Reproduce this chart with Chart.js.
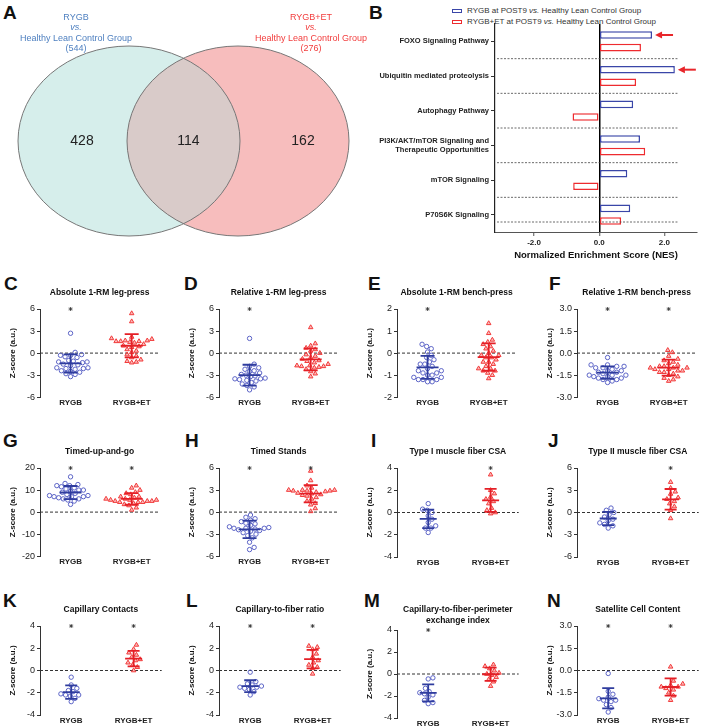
<!DOCTYPE html>
<html>
<head>
<meta charset="utf-8">
<script src="https://cdn.jsdelivr.net/npm/chart.js"></script>
<style>
  body { margin: 0; background: #fff; }
  #page { position: relative; width: 709px; height: 727px; overflow: hidden; font-family: "Liberation Sans", Arial, sans-serif; }
  .letter { position: absolute; font: bold 19px/19px "Liberation Sans", Arial, sans-serif; color: #111; }
  #legendB { position: absolute; left: 452px; top: 5px; font-size: 8px; color: #333; }
  #legendB div { height: 11px; line-height: 11px; white-space: nowrap; }
  #legendB .sw { display: inline-block; width: 8px; height: 2px; border: 1.5px solid; margin-right: 5px; vertical-align: middle; }
</style>
</head>
<body>
<div id="page">
  <div id="legendB"></div>
</div>
<script>
// ---- panel A: Venn counts
const setNames = ['RYGB', 'RYGB+ET'];
const comparison = 'Healthy Lean Control Group';
const setTotals = [544, 276];
const regionCounts = [428, 114, 162];

// ---- panel B: GSEA
const pathways = ['FOXO Signaling Pathway', 'Ubiquitin mediated proteolysis', 'Autophagy Pathway',
  ['PI3K/AKT/mTOR Signaling and', 'Therapeutic Opportunities'], 'mTOR Signaling', 'P70S6K Signaling'];
const nesLabels = ['RYGB at POST9 vs. Healthy  Lean Control Group', 'RYGB+ET at POST9 vs. Healthy  Lean Control Group'];
const nesRygb = [1.62, 2.32, 1.04, 1.25, 0.86, 0.95];
const nesEt = [1.28, 1.13, -0.82, 1.41, -0.80, 0.67];
const nesTicks = [-2, 0, 2];
const arrowRows = [0, 1];

// ---- panels C-N: z-scores
const groups = ['RYGB', 'RYGB+ET'];
const panelTitles = ['Absolute 1-RM leg-press', 'Relative 1-RM leg-press', 'Absolute 1-RM bench-press', 'Relative 1-RM bench-press',
  'Timed-up-and-go', 'Timed Stands', 'Type I muscle fiber CSA', 'Type II muscle fiber CSA',
  'Capillary Contacts', 'Capillary-to-fiber ratio', ['Capillary-to-fiber-perimeter', 'exchange index'], 'Satellite Cell Content'];
const axisMax = [6, 6, 2, 3, 20, 6, 4, 6, 4, 4, 4, 3];
const axisStep = [3, 3, 1, 1.5, 10, 3, 2, 3, 2, 2, 2, 1.5];
const tickDecimals = [0, 0, 0, 1, 0, 0, 0, 0, 0, 0, 0, 1];
const sigRygb = [1, 1, 1, 1, 1, 1, 0, 0, 1, 1, 1, 1];
const sigEt = [0, 0, 0, 1, 1, 1, 1, 1, 1, 1, 0, 1];

const legAbsRygb = [2.7, 0.1, -0.2, -0.3, -0.3, -0.5, -0.6, -1.0, -1.1, -1.2, -1.2, -1.3, -1.5, -1.6, -1.7, -2.0, -2.0, -2.1, -2.1, -2.2, -2.4, -2.5, -2.6, -2.8, -2.9, -3.2];
const legAbsEt = [5.4, 4.3, 2.2, 2.0, 1.9, 1.7, 1.7, 1.6, 1.6, 1.6, 1.5, 1.4, 1.2, 1.0, 0.9, 0.8, 0.5, 0.3, 0.1, -0.2, -0.4, -0.6, -0.9, -1.1, -1.2, -1.3];
const legRelRygb = [2.0, -1.5, -1.8, -2.0, -2.2, -2.4, -2.5, -2.7, -2.9, -3.0, -3.1, -3.2, -3.4, -3.5, -3.5, -3.6, -3.7, -3.8, -4.0, -4.2, -4.4, -4.6, -5.0];
const legRelEt = [3.5, 1.3, 1.0, 0.7, 0.5, 0.3, 0.0, -0.2, -0.4, -0.6, -0.8, -1.0, -1.1, -1.3, -1.5, -1.7, -1.7, -1.8, -1.8, -1.9, -2.0, -2.2, -2.5, -2.8, -3.2];
const benchAbsRygb = [0.4, 0.3, 0.2, 0.05, -0.1, -0.2, -0.3, -0.4, -0.5, -0.5, -0.6, -0.7, -0.8, -0.8, -0.9, -0.9, -1.0, -1.0, -1.1, -1.1, -1.2, -1.2, -1.2, -1.3, -1.3];
const benchAbsEt = [1.35, 0.9, 0.6, 0.5, 0.4, 0.3, 0.2, 0.1, 0.0, -0.1, -0.1, -0.2, -0.2, -0.3, -0.4, -0.4, -0.5, -0.6, -0.7, -0.7, -0.8, -0.8, -0.9, -1.0, -1.15];
const benchRelRygb = [-0.3, -0.8, -0.8, -0.9, -0.9, -1.0, -1.0, -1.1, -1.2, -1.2, -1.3, -1.3, -1.4, -1.5, -1.5, -1.5, -1.6, -1.6, -1.7, -1.7, -1.8, -1.8, -1.9, -2.0];
const benchRelEt = [0.2, 0.05, -0.2, -0.4, -0.5, -0.6, -0.7, -0.8, -0.9, -0.9, -1.0, -1.0, -1.0, -1.1, -1.1, -1.2, -1.2, -1.3, -1.3, -1.4, -1.5, -1.6, -1.7, -1.8, -1.9];
const tugRygb = [16, 13, 12.5, 12, 12, 11.5, 11, 10.5, 10, 10, 9.5, 9, 8.5, 8, 7.5, 7.5, 7, 7, 7, 6.5, 6, 6, 5.5, 5, 3.5];
const tugEt = [12, 11, 10, 9, 8.5, 8, 7, 7, 6.5, 6, 6, 5.5, 5.5, 5.5, 5, 5, 5, 4.5, 4.5, 4.5, 4, 3.5, 3, 2, 1];
const standsRygb = [-0.4, -0.7, -0.9, -1.1, -1.3, -1.5, -1.6, -1.8, -2.0, -2.1, -2.2, -2.2, -2.2, -2.3, -2.4, -2.5, -2.6, -2.8, -3.0, -3.2, -3.5, -4.1, -4.8, -5.1];
const standsEt = [5.6, 4.3, 3.6, 3.3, 3.0, 3.0, 3.0, 2.9, 2.9, 2.9, 2.8, 2.7, 2.6, 2.5, 2.4, 2.3, 2.2, 2.0, 1.8, 1.5, 1.2, 1.0, 0.5, 0.1];
const type1Rygb = [0.8, 0.3, 0.2, 0.0, -0.3, -0.6, -0.9, -1.2, -1.4, -1.4, -1.8];
const type1Et = [3.4, 2.0, 1.7, 1.4, 1.2, 1.0, 0.8, 0.4, 0.2, 0.0, -0.1];
const type2Rygb = [0.6, 0.3, 0.0, -0.3, -0.6, -0.9, -1.1, -1.4, -1.6, -1.8, -2.1];
const type2Et = [4.1, 3.3, 2.8, 2.5, 2.0, 1.8, 1.5, 1.2, 0.8, 0.3, -0.8];
const capContactsRygb = [-0.6, -1.3, -1.6, -1.8, -1.9, -2.1, -2.2, -2.2, -2.3, -2.5, -2.8];
const capContactsEt = [2.3, 1.9, 1.6, 1.4, 1.2, 1.0, 0.9, 0.7, 0.5, 0.3, 0.0];
const capRatioRygb = [-0.15, -1.0, -1.2, -1.3, -1.4, -1.5, -1.5, -1.6, -1.7, -1.9, -2.2];
const capRatioEt = [2.2, 2.1, 1.9, 1.5, 1.2, 0.9, 0.7, 0.5, 0.3, 0.2, -0.3];
const capPerimRygb = [-0.35, -0.45, -1.3, -1.6, -1.7, -1.8, -1.9, -2.1, -2.4, -2.6, -2.7];
const capPerimEt = [0.85, 0.7, 0.5, 0.3, 0.1, 0.0, -0.1, -0.3, -0.5, -0.7, -1.1];
const satCellRygb = [-0.2, -1.4, -1.6, -1.8, -1.9, -2.0, -2.0, -2.1, -2.3, -2.5, -2.8];
const satCellEt = [0.25, -0.7, -0.9, -1.0, -1.1, -1.1, -1.2, -1.3, -1.5, -1.7, -2.0];

const rygbScores = [legAbsRygb, legRelRygb, benchAbsRygb, benchRelRygb, tugRygb, standsRygb,
  type1Rygb, type2Rygb, capContactsRygb, capRatioRygb, capPerimRygb, satCellRygb];
const etScores = [legAbsEt, legRelEt, benchAbsEt, benchRelEt, tugEt, standsEt,
  type1Et, type2Et, capContactsEt, capRatioEt, capPerimEt, satCellEt];

const bluePoint = '#5b63c6', blueBar = '#2f3c9e';
const redPoint = '#f23b3b', redBar = '#e41f26';

Chart.defaults.font.family = '"Liberation Sans", Arial, sans-serif';
Chart.defaults.color = '#222';
Chart.defaults.animation = false;
Chart.defaults.responsive = false;
Chart.defaults.plugins.legend.display = false;
Chart.defaults.plugins.tooltip.enabled = false;

const page = document.getElementById('page');
function addCanvas(left, top, w, h) {
  const c = document.createElement('canvas');
  c.width = w; c.height = h;
  c.style.cssText = `position:absolute;left:${left}px;top:${top}px;width:${w}px;height:${h}px`;
  page.appendChild(c);
  return c;
}

// panel letters
const letterPos = { A: [3, 3], B: [369, 3], C: [4, 274], D: [184, 274], E: [368, 274], F: [549, 274],
  G: [3, 431], H: [185, 431], I: [371, 431], J: [548, 431], K: [3, 591], L: [186, 591], M: [364, 591], N: [547, 591] };
Object.keys(letterPos).forEach(k => {
  const d = document.createElement('div');
  d.className = 'letter';
  d.textContent = k;
  d.style.left = letterPos[k][0] + 'px';
  d.style.top = letterPos[k][1] + 'px';
  page.appendChild(d);
});

// ---------- A: Venn ----------
const vennShapes = [
  { cx: 129, cy: 141, rx: 111, ry: 95, fill: '#d6eeeb', text: '#4f80c0', labelX: 76, countX: 82 },
  { cx: 238, cy: 141, rx: 111, ry: 95, fill: '#f7bdbd', text: '#f23d3d', labelX: 311, countX: 303 }
];
const vennPlugin = {
  id: 'venn',
  afterDraw(chart) {
    const { ctx, scales: { x, y } } = chart;
    const path = s => {
      ctx.beginPath();
      ctx.ellipse(x.getPixelForValue(s.cx), y.getPixelForValue(s.cy),
        Math.abs(x.getPixelForValue(s.cx + s.rx) - x.getPixelForValue(s.cx)),
        Math.abs(y.getPixelForValue(s.cy + s.ry) - y.getPixelForValue(s.cy)), 0, 0, Math.PI * 2);
    };
    ctx.save();
    vennShapes.forEach(s => { path(s); ctx.fillStyle = s.fill; ctx.fill(); });
    ctx.save();
    path(vennShapes[0]); ctx.clip();
    path(vennShapes[1]); ctx.fillStyle = '#d9cbc9'; ctx.fill();
    ctx.restore();
    ctx.strokeStyle = '#777'; ctx.lineWidth = 1;
    vennShapes.forEach(s => { path(s); ctx.stroke(); });

    ctx.textAlign = 'center'; ctx.textBaseline = 'middle';
    ctx.fillStyle = '#222';
    ctx.font = '14px "Liberation Sans", Arial, sans-serif';
    const countX = [vennShapes[0].countX, (vennShapes[0].cx + vennShapes[1].cx) / 2 + 5, vennShapes[1].countX];
    regionCounts.forEach((n, i) => ctx.fillText(String(n), x.getPixelForValue(countX[i]), y.getPixelForValue(141)));

    vennShapes.forEach((s, i) => {
      const lines = [[setNames[i], ''], ['vs.', 'italic '], [comparison, ''], ['(' + setTotals[i] + ')', '']];
      ctx.fillStyle = s.text;
      lines.forEach(([t, style], k) => {
        ctx.font = style + '9px "Liberation Sans", Arial, sans-serif';
        ctx.fillText(t, x.getPixelForValue(s.labelX), y.getPixelForValue(17.5 + k * 10.3));
      });
    });
    ctx.restore();
  }
};
new Chart(addCanvas(0, 0, 370, 262), {
  type: 'scatter',
  data: { datasets: [] },
  options: {
    layout: { padding: 0 },
    scales: {
      x: { display: false, min: 0, max: 370 },
      y: { display: false, min: 0, max: 262, reverse: true }
    }
  },
  plugins: [vennPlugin]
});

// ---------- B: NES bars ----------
const separators = {
  id: 'separators',
  afterDatasetsDraw(chart) {
    const { ctx, chartArea: a, scales: { x, y } } = chart;
    const n = chart.data.labels.length;
    const band = (a.bottom - a.top) / n;
    ctx.save();
    ctx.strokeStyle = '#444'; ctx.lineWidth = 0.8; ctx.setLineDash([2, 1.5]);
    for (let i = 0; i < n; i++) {
      let yy = y.getPixelForValue(i) + band / 2;
      if (i === n - 1) yy -= 10;
      ctx.beginPath(); ctx.moveTo(a.left + 2, yy); ctx.lineTo(x.getPixelForValue(2.4), yy); ctx.stroke();
    }
    ctx.restore();
  }
};
const arrows = {
  id: 'arrows',
  afterDatasetsDraw(chart) {
    const { ctx } = chart;
    const meta = chart.getDatasetMeta(0);
    ctx.save();
    ctx.strokeStyle = ctx.fillStyle = '#e8262b';
    ctx.lineWidth = 2;
    arrowRows.forEach(i => {
      const el = meta.data[i];
      const tip = el.x + 3, yy = el.y;
      ctx.beginPath(); ctx.moveTo(tip + 5, yy); ctx.lineTo(tip + 18, yy); ctx.stroke();
      ctx.beginPath(); ctx.moveTo(tip, yy); ctx.lineTo(tip + 7, yy - 3.5); ctx.lineTo(tip + 7, yy + 3.5); ctx.closePath(); ctx.fill();
    });
    ctx.restore();
  }
};
const chartB = new Chart(addCanvas(355, 0, 354, 262), {
  type: 'bar',
  data: {
    labels: pathways,
    datasets: [
      { label: nesLabels[0], data: nesRygb, backgroundColor: '#fff', borderColor: '#3a46a8', borderWidth: 1.5, borderSkipped: false },
      { label: nesLabels[1], data: nesEt, backgroundColor: '#fff', borderColor: '#ee2b2f', borderWidth: 1.5, borderSkipped: false }
    ]
  },
  options: {
    indexAxis: 'y',
    categoryPercentage: 0.73,
    barPercentage: 0.6,
    layout: { padding: { top: 24, right: 12, left: 0, bottom: 0 } },
    scales: {
      x: {
        min: -3.2, max: 3,
        afterBuildTicks: s => { s.ticks = nesTicks.map(v => ({ value: v })); },
        ticks: { callback: v => v.toFixed(1), font: { size: 8, weight: 'bold' }, color: '#222', padding: 2 },
        grid: {
          color: c => (c.tick && c.tick.value === 0 ? '#000' : 'rgba(0,0,0,0)'),
          lineWidth: 1.5, tickColor: '#555', tickWidth: 1, tickLength: 4
        },
        border: { color: '#555', width: 1 },
        title: { display: true, text: 'Normalized Enrichment Score (NES)', font: { size: 9.5, weight: 'bold' }, color: '#111', padding: { top: 0, bottom: 1 } },
        afterFit: s => { s.height = 30; }
      },
      y: {
        grid: { drawOnChartArea: false, offset: false, tickLength: 4, tickColor: '#333' },
        border: { color: '#222', width: 1.2 },
        ticks: { font: { size: 7.5, weight: 'bold' }, color: '#222', padding: 2, autoSkip: false },
        afterFit: s => { s.width = 140; }
      }
    }
  },
  plugins: [separators, arrows]
});

// HTML legend for B built from the chart's datasets
const legendEl = document.getElementById('legendB');
chartB.data.datasets.forEach(ds => {
  const row = document.createElement('div');
  row.innerHTML = `<span class="sw" style="border-color:${ds.borderColor}"></span>` + ds.label.replace('vs.', '<i>vs.</i>');
  legendEl.appendChild(row);
});

// ---------- C-N: dot plots ----------
const colLefts = [0, 179, 357, 537];
const rowTops = [286, 445, 603];

function meanSd(a) {
  const m = a.reduce((s, v) => s + v, 0) / a.length;
  const sd = Math.sqrt(a.reduce((s, v) => s + (v - m) ** 2, 0) / (a.length - 1));
  return [m, sd];
}

// simple beeswarm: spread points sideways so they don't overlap
function swarm(values, center, yMax) {
  const ky = 89 / (2 * yMax), kx = 66.7, d = 5;
  const placed = [];
  const out = new Array(values.length);
  values.map((v, i) => i).sort((a, b) => values[a] - values[b]).forEach(i => {
    const py = values[i] * ky;
    let best = 0;
    for (let k = 0; k < 80; k++) {
      const off = (k % 2 ? 1 : -1) * Math.ceil(k / 2);
      if (placed.every(p => (p.x - off) ** 2 + (p.y - py) ** 2 >= d * d)) { best = off; break; }
    }
    placed.push({ x: best, y: py });
    out[i] = { x: center + best / kx, y: values[i] };
  });
  return out;
}

const zeroLine = {
  id: 'zeroLine',
  beforeDatasetsDraw(chart) {
    const { ctx, chartArea: a, scales: { y } } = chart;
    const yy = y.getPixelForValue(0);
    ctx.save();
    ctx.strokeStyle = '#333'; ctx.lineWidth = 1; ctx.setLineDash([3, 2]);
    ctx.beginPath(); ctx.moveTo(a.left, yy); ctx.lineTo(a.right, yy); ctx.stroke();
    ctx.restore();
  }
};

function dotPlot(p) {
  const col = p % 4, row = Math.floor(p / 4);
  const twoLine = Array.isArray(panelTitles[p]);
  const canvas = addCanvas(colLefts[col], rowTops[row], 172, twoLine ? 127 : 124);
  const rygb = rygbScores[p], et = etScores[p], yMax = axisMax[p];
  const [m1, s1] = meanSd(rygb);
  const [m2, s2] = meanSd(et);
  const big = rygb.length > 15;
  const capR = big ? 7 : 6, meanR = big ? 11 : 8.5;
  const errBar = (xv, m, s, color) => ({
    data: [{ x: xv, y: m - s }, { x: xv, y: m + s }], showLine: true,
    borderColor: color, borderWidth: 1.8, pointStyle: 'line', pointRadius: capR, pointBorderWidth: 1.8
  });
  const meanMark = (xv, m, color) => ({
    data: [{ x: xv, y: m }], borderColor: color, pointStyle: 'line', pointRadius: meanR, pointBorderWidth: 1.8
  });
  const stars = [];
  if (sigRygb[p]) stars.push({ x: 1, y: yMax });
  if (sigEt[p]) stars.push({ x: 2, y: yMax });

  new Chart(canvas, {
    type: 'scatter',
    data: {
      datasets: [
        errBar(1, m1, s1, blueBar), errBar(2, m2, s2, redBar),
        meanMark(1, m1, blueBar), meanMark(2, m2, redBar),
        { data: stars, pointStyle: 'star', pointRadius: 2, pointBorderWidth: 0.8, borderColor: '#333', clip: false },
        { data: swarm(rygb, 1, yMax), pointStyle: 'circle', pointRadius: 2.2, pointBorderWidth: 1, borderColor: bluePoint, backgroundColor: 'rgba(255,255,255,0)' },
        { data: swarm(et, 2, yMax), pointStyle: 'triangle', pointRadius: 2.6, pointBorderWidth: 1, borderColor: redPoint, backgroundColor: 'rgba(240,60,60,0.35)' }
      ]
    },
    options: {
      layout: { padding: { left: 0, right: 2, top: 0, bottom: 0 } },
      plugins: {
        title: {
          display: true, fullSize: false, text: panelTitles[p], font: { size: 8.5, weight: 'bold' }, color: '#111',
          padding: { top: 2, bottom: twoLine ? 4.6 : 10.8 }
        }
      },
      scales: {
        x: {
          type: 'linear', min: 0.5, max: 2.45,
          grid: { display: false, drawTicks: false }, border: { display: false },
          afterBuildTicks: s => { s.ticks = [{ value: 1 }, { value: 2 }]; },
          ticks: { callback: v => groups[v - 1], font: { size: 8, weight: 'bold' }, color: '#222', padding: 1 },
          afterFit: s => { s.height = 12; }
        },
        y: {
          min: -yMax, max: yMax,
          ticks: { stepSize: axisStep[p], callback: v => v.toFixed(tickDecimals[p]), font: { size: 9 }, color: '#222', padding: 2 },
          grid: { drawOnChartArea: false, tickLength: 3, tickColor: '#333' },
          border: { color: '#333', width: 1 },
          title: { display: true, text: 'Z-score (a.u.)', font: { size: 8, weight: 'bold' }, color: '#111', padding: { top: 8, bottom: 0 } },
          afterFit: s => { s.width = 40; }
        }
      }
    },
    plugins: [zeroLine]
  });
}
for (let p = 0; p < 12; p++) dotPlot(p);
</script>
</body>
</html>
